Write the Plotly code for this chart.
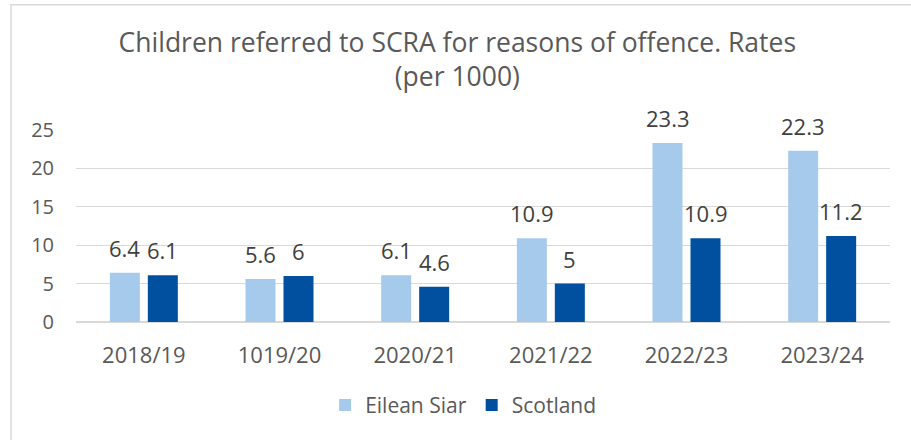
import plotly.graph_objects as go

categories = ["2018/19", "1019/20", "2020/21", "2021/22", "2022/23", "2023/24"]
eilean_siar = [6.4, 5.6, 6.1, 10.9, 23.3, 22.3]
scotland = [6.1, 6.0, 4.6, 5.0, 10.9, 11.2]
series_names = ["Eilean Siar", "Scotland"]
y_ticks = [0, 5, 10, 15, 20, 25]

title_text = "Children referred to SCRA for reasons of offence. Rates<br>(per 1000)"

FONT = "Open Sans"
LIGHT = "#A6CAEC"
DARK = "#00509F"

fig = go.Figure()
fig.add_trace(go.Bar(x=categories, y=eilean_siar, name=series_names[0],
                     marker=dict(color=LIGHT, line=dict(width=0))))
fig.add_trace(go.Bar(x=categories, y=scotland, name=series_names[1],
                     marker=dict(color=DARK, line=dict(width=0))))

# data labels
for vals, shift in ((eilean_siar, -19), (scotland, 19)):
    for c, v in zip(categories, vals):
        fig.add_annotation(x=c, y=v, text=f"{v:g}", showarrow=False,
                           xshift=shift, yshift=25, yanchor="middle",
                           font=dict(family=FONT, size=22, color="#404040"))

# chart border (extends past right/bottom edge as in reference)
fig.add_shape(type="rect", xref="paper", yref="paper",
              x0=(11 - 76) / 814, x1=(920 - 76) / 814,
              y0=(321.7 - 450) / 191.7, y1=(321.7 - 5) / 191.7,
              line=dict(color="#D9D9D9", width=1.5), fillcolor="rgba(0,0,0,0)",
              layer="below")

fig.update_layout(
    width=911, height=440,
    margin=dict(l=76, r=21, t=130, b=118, autoexpand=False),
    paper_bgcolor="white", plot_bgcolor="white",
    barmode="group", bargap=0.44, bargroupgap=0.21,
    title=dict(text=title_text, x=0.502, xanchor="center", y=0.882, yanchor="top",
               yref="container",
               font=dict(family=FONT, size=26.5, color="#595959")),
    legend=dict(orientation="h", x=0.4756, xanchor="center", y=-0.434, yanchor="middle",
                font=dict(family=FONT, size=21, color="#595959"),
                itemsizing="constant", traceorder="normal"),
    xaxis=dict(showgrid=False, showline=False, ticks="", zeroline=False,
               automargin=False, ticklabelstandoff=18,
               tickfont=dict(family=FONT, size=22, color="#595959")),
    yaxis=dict(range=[0, 25], tickvals=y_ticks, showgrid=True, gridcolor="#D9D9D9",
               gridwidth=1, zeroline=True, zerolinecolor="#D9D9D9", zerolinewidth=1.5,
               showline=False, ticks="", ticklabelstandoff=21, automargin=False,
               tickfont=dict(family=FONT, size=20, color="#595959")),
    showlegend=True,
)

fig.write_html("out.html", config={"displayModeBar": False},
               post_script="document.body.style.margin='0';")
